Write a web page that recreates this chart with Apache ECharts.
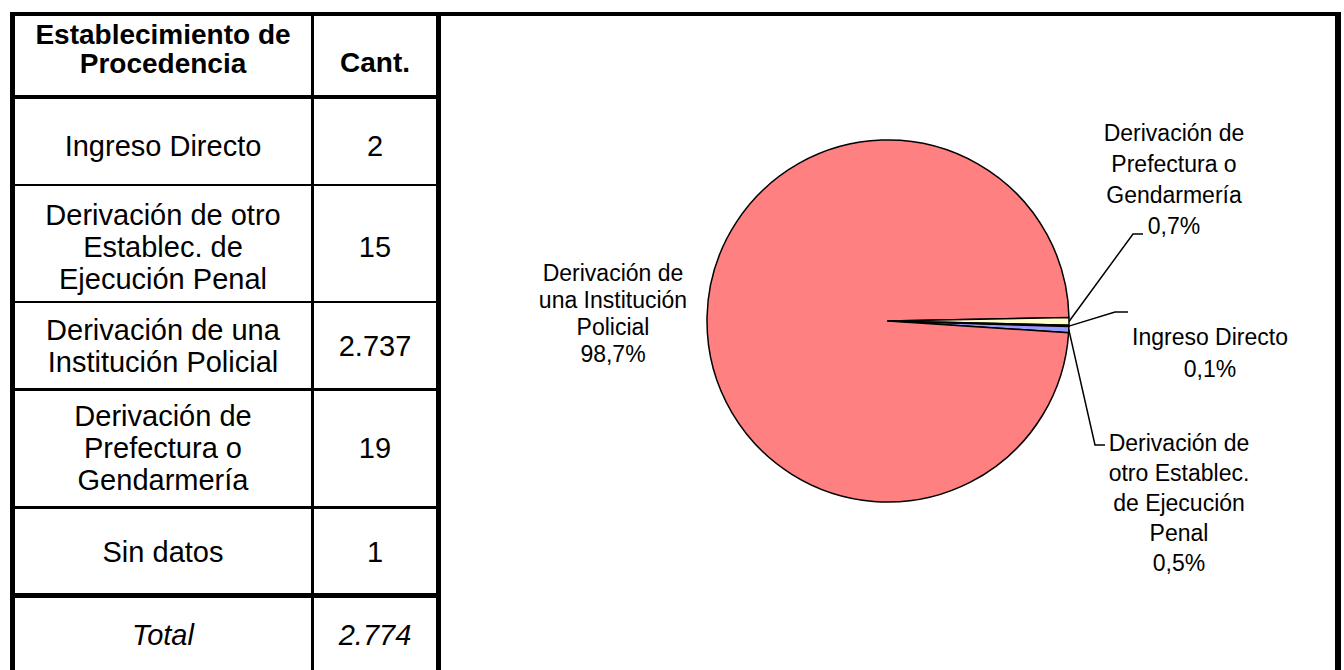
<!DOCTYPE html>
<html>
<head>
<meta charset="utf-8">
<title>Establecimiento de Procedencia</title>
<script src="https://cdn.jsdelivr.net/npm/echarts@6.0.0/dist/echarts.min.js"></script>
<style>
  html, body { margin: 0; padding: 0; background: #fff; }
  #chart { width: 1344px; height: 670px; }
</style>
</head>
<body>
<div id="chart"></div>
<script>
// datos de la tabla
const categories = ['Ingreso Directo', 'Derivación de otro Establec. de Ejecución Penal',
  'Derivación de una Institución Policial', 'Derivación de Prefectura o Gendarmería', 'Sin datos']
const counts = [2, 15, 2737, 19, 1]
const totalCount = 2774

// textos cortados como en la imagen
const tableLabels = ['Ingreso Directo', 'Derivación de otro\nEstablec. de\nEjecución Penal',
  'Derivación de una\nInstitución Policial', 'Derivación de\nPrefectura o\nGendarmería', 'Sin datos']
const pieLabels = ['Ingreso Directo', 'Derivación de\notro Establec.\nde Ejecución\nPenal',
  'Derivación de\nuna Institución\nPolicial', 'Derivación de\nPrefectura o\nGendarmería', '']
const sliceColors = ['#CCFFFF', '#9999FF', '#FF8080', '#FFFFCC', '#993366']

const FONT = '"Liberation Sans", Arial, sans-serif'

// separador de miles con punto
const fmt = v => String(v).replace(/\B(?=(\d{3})+(?!\d))/g, '.')

// posiciones de las etiquetas de la torta (top-center del bloque) y quiebre del conector
const labelSpots = {
  0: { x: 1210, y: 321, lh: 32, line: [[1115, 312], [1128, 312]] },
  1: { x: 1179, y: 428, lh: 30, line: [[1095, 445], [1105, 445]] },
  2: { x: 613, y: 259, lh: 27 },
  3: { x: 1174, y: 117, lh: 31, line: [[1133, 234], [1143, 234]] }
}

const bar = (x, y, w, h) => ({
  type: 'rect', silent: true,
  shape: { x: x, y: y, width: w, height: h },
  style: { fill: '#000' }
})
const txt = (s, x, y, opts) => ({
  type: 'text', silent: true,
  style: Object.assign({
    text: s, x: x, y: y, align: 'center', verticalAlign: 'middle',
    fontFamily: FONT, fontSize: 29, lineHeight: 32, fill: '#000'
  }, opts || {})
})

// marco y grilla de la tabla
const rowLines = [[95, 4], [184, 2], [301, 2], [388, 3], [506, 3], [593, 5]]
const rowTextY = [146, 247, 346, 448, 552]
const graphics = [
  bar(10, 12, 1331, 4),
  bar(10, 12, 5, 680),
  bar(1335, 12, 6, 680),
  bar(436, 12, 5, 680),
  bar(311, 12, 3, 680)
]
rowLines.forEach(r => graphics.push(bar(10, r[0], 430, r[1])))

graphics.push(txt('Establecimiento de\nProcedencia', 163, 49, { fontWeight: 'bold', fontSize: 28, lineHeight: 29 }))
graphics.push(txt('Cant.', 375, 62, { fontWeight: 'bold', fontSize: 28 }))
tableLabels.forEach((s, i) => {
  graphics.push(txt(s, 163, rowTextY[i]))
  graphics.push(txt(fmt(counts[i]), 375, rowTextY[i]))
})
graphics.push(txt('Total', 163, 635, { fontStyle: 'italic' }))
graphics.push(txt(fmt(totalCount), 375, 635, { fontStyle: 'italic' }))

const chart = echarts.init(document.getElementById('chart'), null, { renderer: 'svg' })

chart.setOption({
  backgroundColor: '#fff',
  animation: false,
  graphic: graphics,
  series: [{
    type: 'pie',
    center: [888, 321],
    radius: 181,
    startAngle: -1.5,
    clockwise: true,
    avoidLabelOverlap: false,
    itemStyle: { borderColor: '#000', borderWidth: 1.5 },
    label: {
      show: true,
      position: 'outside',
      overflow: 'none',
      color: '#000',
      fontFamily: FONT,
      fontSize: 23,
      lineHeight: 30,
      align: 'center',
      formatter: p => pieLabels[p.dataIndex] + '\n' + p.percent.toFixed(1).replace('.', ',') + '%'
    },
    labelLine: { show: true, length: 20, length2: 10, lineStyle: { color: '#000', width: 1.5 } },
    labelLayout: p => {
      const s = labelSpots[p.dataIndex]
      if (!s) return {}
      const out = { x: s.x, y: s.y, align: 'center', verticalAlign: 'top' }
      if (s.line && p.labelLinePoints) {
        out.labelLinePoints = [p.labelLinePoints[0], s.line[0], s.line[1]]
      }
      return out
    },
    emphasis: { disabled: true },
    data: categories.map((name, i) => {
      const item = { name: name, value: counts[i], itemStyle: { color: sliceColors[i] } }
      if (labelSpots[i]) item.label = { lineHeight: labelSpots[i].lh }
      if (i === 2) item.labelLine = { show: false }
      if (i === 4) {
        item.label = { show: false }
        item.labelLine = { show: false }
      }
      return item
    })
  }]
})
</script>
</body>
</html>
